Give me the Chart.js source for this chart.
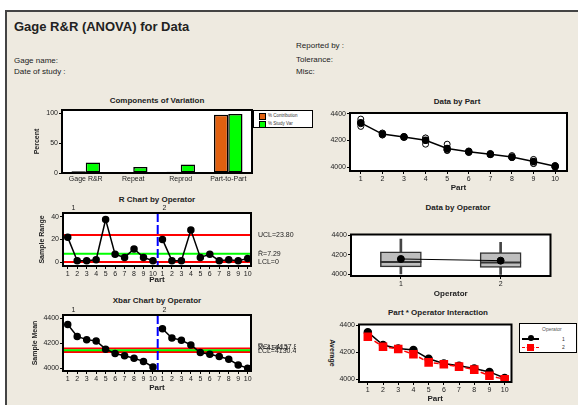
<!DOCTYPE html>
<html><head><meta charset="utf-8">
<script src="https://cdn.jsdelivr.net/npm/chart.js@4.4.1/dist/chart.umd.min.js"></script>
<style>
html,body{margin:0;padding:0;background:#fff;overflow:hidden;width:578px;height:405px}
body{position:relative;font-family:"Liberation Sans",Arial,sans-serif;color:#222}
#frame{position:absolute;left:5px;top:10px;width:600px;height:420px;background:#EEEAE0;border-left:2px solid #444;border-top:2px solid #444;box-sizing:border-box}
canvas{position:absolute}
.t{position:absolute;white-space:nowrap;transform:translate(-50%,-50%);font-weight:bold;font-size:8px;line-height:1}
.h{position:absolute;white-space:nowrap;font-size:8px;line-height:1}
.box{position:absolute;background:#fff;border:1px solid #000;box-sizing:border-box}
.sw{position:absolute;width:5px;height:5px;border:1px solid #000}
.lt{position:absolute;font-size:4.5px;line-height:1;white-space:nowrap;color:#333}
</style></head><body>
<div id="frame"></div>

<div class="h" style="left:14px;top:20px;font-size:13px;font-weight:bold">Gage R&amp;R (ANOVA) for Data</div>
<div class="h" style="left:14px;top:57px">Gage name:</div>
<div class="h" style="left:14px;top:68px">Date of study :</div>
<div class="h" style="left:296px;top:42px">Reported by :</div>
<div class="h" style="left:296px;top:56px">Tolerance:</div>
<div class="h" style="left:296px;top:68px">Misc:</div>

<div class="t" style="left:157px;top:101px">Components of Variation</div>
<div class="t" style="left:457px;top:102px">Data by Part</div>
<div class="t" style="left:157px;top:200px">R Chart by Operator</div>
<div class="t" style="left:458px;top:208px">Data by Operator</div>
<div class="t" style="left:157px;top:301px">Xbar Chart by Operator</div>
<div class="t" style="left:438px;top:313px">Part * Operator Interaction</div>
<div class="t" style="left:332px;top:353px;font-size:7px;transform:translate(-50%,-50%) rotate(90deg)">Average</div>

<canvas id="cA"></canvas>
<canvas id="cB"></canvas>
<canvas id="cC"></canvas>
<canvas id="cD"></canvas>
<canvas id="cE"></canvas>
<canvas id="cF"></canvas>

<!-- legend for components of variation -->
<div class="box" style="left:253px;top:110px;width:60px;height:18px">
  <div class="sw" style="left:5px;top:2px;background:#E06010"></div>
  <div class="lt" style="left:14px;top:3px">% Contribution</div>
  <div class="sw" style="left:5px;top:10px;background:#00FF00"></div>
  <div class="lt" style="left:14px;top:11px">% Study Var</div>
</div>

<!-- legend for interaction plot -->
<div class="box" style="left:519px;top:323px;width:58px;height:30px;border-width:1.5px">
  <div class="lt" style="left:22px;top:3px;font-size:5px;color:#555">Operator</div>
  <div style="position:absolute;left:2px;top:14px;width:17px;height:1.5px;background:#000"></div>
  <div style="position:absolute;left:8px;top:11px;width:6px;height:6px;border-radius:50%;background:#000"></div>
  <div class="lt" style="left:42px;top:12.5px;font-size:5px">1</div>
  <div style="position:absolute;left:2px;top:22.5px;width:17px;height:0;border-top:1.5px dashed #f00"></div>
  <div style="position:absolute;left:7px;top:20px;width:7px;height:7px;background:#f00"></div>
  <div class="lt" style="left:42px;top:21px;font-size:5px">2</div>
</div>

<script>
// ---- data ----
const compCats = ['Gage R&R', 'Repeat', 'Reprod', 'Part-to-Part'];
const pctContribution = [3.0, 1.0, 2.0, 97.0];
const pctStudyVar = [17.3, 10.1, 14.1, 98.5];

const parts = [1, 2, 3, 4, 5, 6, 7, 8, 9, 10];
const op1Trial1 = [4361, 4256, 4230, 4219, 4172, 4121, 4102, 4086, 4057, 4011];
const op1Trial2 = [4339, 4254, 4228, 4217, 4134, 4115, 4098, 4074, 4053, 4009];
const op2Trial1 = [4326, 4243, 4226, 4200, 4128, 4115, 4095, 4073, 4028, 4002];
const op2Trial2 = [4306, 4241, 4224, 4172, 4124, 4109, 4093, 4071, 4026, 3998];
const partMean = [4333, 4248, 4227, 4202, 4140, 4115, 4097, 4076, 4041, 4005];

const op1Range = [21.8, 1.2, 1.2, 2.0, 37.6, 6.8, 4.1, 11.5, 4.1, 1.2];
const op2Range = [20.0, 1.2, 1.2, 28.2, 4.1, 6.8, 1.2, 2.0, 1.2, 3.2];
const op1Avg = [4350, 4255, 4229, 4218, 4153, 4118, 4100, 4080, 4055, 4010];
const op2Avg = [4316, 4242, 4225, 4186, 4126, 4112, 4094, 4072, 4027, 4000];

const rLimits = [23.80, 7.29, 0];          // UCL, Rbar, LCL
const xbarLimits = [4157.8, 4144.1, 4130.4]; // UCL, Xbarbar, LCL

const operators = ['1', '2'];
const boxLow = [4002, 3997];
const boxQ1 = [4074, 4069];
const boxMedian = [4123, 4118];
const boxQ3 = [4229, 4221];
const boxHigh = [4361, 4326];
const opMean = [4155, 4138];

const pctTicks = [0, 50, 100];
const rTicks = [0, 20, 40];
const meanTicks = [4000, 4200, 4400];

// ---- setup ----
Chart.defaults.font.family = '"Liberation Sans", Arial, sans-serif';
Chart.defaults.font.size = 7;
Chart.defaults.color = '#222';
Chart.defaults.animation = false;
Chart.defaults.plugins.legend.display = false;
Chart.defaults.plugins.tooltip.enabled = false;

// white plot area + black frame
const framePlugin = {
  id: 'frame',
  beforeDraw(chart) {
    const a = chart.chartArea, c = chart.ctx;
    c.save(); c.fillStyle = '#fff';
    c.fillRect(a.left, a.top, a.right - a.left, a.bottom - a.top);
    c.restore();
  },
  afterDatasetsDraw(chart) {
    const a = chart.chartArea, c = chart.ctx;
    c.save(); c.strokeStyle = '#000'; c.lineWidth = 2;
    c.strokeRect(a.left, a.top, a.right - a.left, a.bottom - a.top);
    c.restore();
  }
};

// control limits, operator divider and their labels
const refPlugin = {
  id: 'refs',
  beforeDatasetsDraw(chart, args, o) {
    if (!o || !o.lines) return;
    const { ctx, chartArea: a, scales: { x, y } } = chart;
    ctx.save();
    o.lines.forEach(l => {
      const py = y.getPixelForValue(l.v);
      ctx.strokeStyle = l.color; ctx.lineWidth = 2;
      ctx.beginPath(); ctx.moveTo(a.left, py); ctx.lineTo(a.right, py); ctx.stroke();
    });
    const px = x.getPixelForValue(o.divider);
    ctx.strokeStyle = '#0000FF'; ctx.lineWidth = 2; ctx.setLineDash([9, 3]);
    ctx.beginPath(); ctx.moveTo(px, a.top); ctx.lineTo(px, a.bottom); ctx.stroke();
    ctx.restore();
  },
  afterDraw(chart, args, o) {
    if (!o || !o.lines) return;
    const { ctx, chartArea: a, scales: { x, y } } = chart;
    ctx.save();
    ctx.font = '7px "Liberation Sans", Arial, sans-serif';
    ctx.fillStyle = '#222';
    ctx.textBaseline = 'middle';
    o.lines.forEach(l => ctx.fillText(l.label, a.right + 7, y.getPixelForValue(l.v) + (l.dy || 0)));
    ctx.textAlign = 'center'; ctx.textBaseline = 'bottom';
    o.ops.forEach(p => ctx.fillText(p.t, x.getPixelForValue(p.at), a.top - 1));
    ctx.restore();
  }
};

function lin(min, max, ticks, title, fmt) {
  return {
    type: 'linear', min, max,
    afterBuildTicks: s => { s.ticks = ticks.map(v => ({ value: v })); },
    grid: { drawOnChartArea: false, tickLength: 3, color: '#000' },
    border: { display: false },
    ticks: { padding: 1, autoSkip: false, maxRotation: 0, callback: fmt || (v => String(v)) },
    title: title ? { display: true, text: title, padding: 0, font: { size: title === 'Part' ? 8 : 7, weight: 'bold' }, color: '#222' } : { display: false }
  };
}

function mk(id, plot, pad, config) {
  const cv = document.getElementById(id);
  const w = plot.w + pad.l + pad.r, h = plot.h + pad.t + pad.b;
  cv.width = w; cv.height = h;
  cv.style.left = (plot.l - pad.l) + 'px'; cv.style.top = (plot.t - pad.t) + 'px';
  cv.style.width = w + 'px'; cv.style.height = h + 'px';
  config.options.responsive = false;
  config.options.devicePixelRatio = 1;
  config.options.layout = { padding: { top: pad.t, right: pad.r, left: 0, bottom: 0 } };
  config.options.scales.x.afterFit = s => { s.height = pad.b; };
  config.options.scales.y.afterFit = s => { s.width = pad.l; };
  config.plugins = [framePlugin, refPlugin];
  return new Chart(cv, config);
}

const pts = (arr, off) => arr.map((v, i) => ({ x: i + (off || 0), y: v }));
const partPts = arr => arr.map((v, i) => ({ x: parts[i], y: v }));

// Components of Variation
mk('cA', { l: 62, t: 110, w: 190, h: 63 }, { l: 29, t: 6, r: 4, b: 16 }, {
  type: 'bar',
  data: {
    labels: compCats,
    datasets: [
      { label: '% Contribution', data: pctContribution, backgroundColor: '#E06010', borderColor: '#000', borderWidth: 1.5, borderSkipped: false, categoryPercentage: 0.6, barPercentage: 1 },
      { label: '% Study Var', data: pctStudyVar, backgroundColor: '#00FF00', borderColor: '#000', borderWidth: 1.5, borderSkipped: false, categoryPercentage: 0.6, barPercentage: 1 }
    ]
  },
  options: {
    scales: {
      x: { type: 'category', grid: { display: false, drawTicks: false }, border: { display: false }, ticks: { padding: 2, autoSkip: false, maxRotation: 0 } },
      y: lin(0, 105, pctTicks, 'Percent')
    }
  }
});

// Data by Part
const openPt = { type: 'scatter', pointRadius: 3, pointBorderWidth: 1, borderColor: '#000', backgroundColor: '#fff', showLine: false };
mk('cB', { l: 350, t: 113, w: 217, h: 58 }, { l: 30, t: 6, r: 6, b: 22 }, {
  type: 'scatter',
  data: {
    datasets: [
      { data: partPts(partMean), showLine: true, borderColor: '#000', borderWidth: 1.5, pointRadius: 3, pointBackgroundColor: '#000', pointBorderColor: '#000' },
      Object.assign({ data: partPts(op1Trial1) }, openPt),
      Object.assign({ data: partPts(op1Trial2) }, openPt),
      Object.assign({ data: partPts(op2Trial1) }, openPt),
      Object.assign({ data: partPts(op2Trial2) }, openPt)
    ]
  },
  options: { scales: { x: lin(0.5, 10.55, parts, 'Part'), y: lin(3970, 4407, meanTicks) } }
});

// R Chart by Operator
const ctlLine = { showLine: true, borderColor: '#000', borderWidth: 1.5, pointRadius: 3, pointBackgroundColor: '#000', pointBorderColor: '#000' };
const idx20 = parts.map(p => p - 1).concat(parts.map(p => p + 9));
mk('cC', { l: 63, t: 213, w: 188, h: 53 }, { l: 25, t: 12, r: 45, b: 19 }, {
  type: 'scatter',
  data: {
    datasets: [
      Object.assign({ data: pts(op1Range, 0) }, ctlLine),
      Object.assign({ data: pts(op2Range, 10) }, ctlLine)
    ]
  },
  options: {
    scales: { x: lin(-0.5, 19.35, idx20, 'Part', v => String(v % 10 + 1)), y: lin(-3.5, 43.3, rTicks, 'Sample Range') },
    plugins: {
      refs: {
        lines: [
          { v: rLimits[0], color: '#FF0000', label: 'UCL=23.80' },
          { v: rLimits[1], color: '#00FF00', label: 'R\u0304=7.29' },
          { v: rLimits[2], color: '#FF0000', label: 'LCL=0' }
        ],
        divider: 9.5,
        ops: [{ t: '1', at: 0.6 }, { t: '2', at: 10.2 }]
      }
    }
  }
});

// Data by Operator
mk('cD', { l: 351, t: 218, w: 216, h: 58 }, { l: 30, t: 6, r: 6, b: 23 }, {
  type: 'bar',
  data: {
    labels: operators,
    datasets: [
      { type: 'line', data: opMean, borderColor: '#000', borderWidth: 1, pointRadius: 3.5, pointBackgroundColor: '#000', pointBorderColor: '#000', order: 0 },
      { type: 'line', data: boxMedian, showLine: false, pointStyle: 'line', pointRadius: 20.5, pointBorderWidth: 2, borderColor: '#333', order: 1 },
      { data: boxQ1.map((v, i) => [v, boxQ3[i]]), backgroundColor: '#BEBEBE', borderColor: '#333', borderWidth: 1.5, borderSkipped: false, barThickness: 41, grouped: false, order: 2 },
      { data: boxLow.map((v, i) => [v, boxHigh[i]]), backgroundColor: '#444', barThickness: 2, grouped: false, order: 3 }
    ]
  },
  options: {
    scales: {
      x: { type: 'category', offset: true, grid: { offset: false, drawOnChartArea: false, tickLength: 3, color: '#000' }, border: { display: false }, ticks: { padding: 1 },
           title: { display: true, text: 'Operator', padding: 0, font: { size: 8, weight: 'bold' }, color: '#222' } },
      y: lin(3980, 4407, meanTicks)
    }
  }
});

// Xbar Chart by Operator
mk('cE', { l: 63, t: 315, w: 188, h: 56 }, { l: 32, t: 12, r: 45, b: 22 }, {
  type: 'scatter',
  data: {
    datasets: [
      Object.assign({ data: pts(op1Avg, 0) }, ctlLine),
      Object.assign({ data: pts(op2Avg, 10) }, ctlLine)
    ]
  },
  options: {
    scales: { x: lin(-0.5, 19.35, idx20, 'Part', v => String(v % 10 + 1)), y: lin(3978, 4426, meanTicks, 'Sample Mean') },
    plugins: {
      refs: {
        lines: [
          { v: xbarLimits[0], color: '#FF0000', label: 'UCL=4157.8', dy: -1 },
          { v: xbarLimits[2], color: '#FF0000', label: 'LCL=4130.4', dy: -1 },
          { v: xbarLimits[1], color: '#00FF00', label: 'X\u033F=4144.1', dy: -2 }
        ],
        divider: 9.5,
        ops: [{ t: '1', at: 0.6 }, { t: '2', at: 10.2 }]
      }
    }
  }
});

// Part * Operator Interaction
mk('cF', { l: 359, t: 324, w: 155, h: 58 }, { l: 30, t: 6, r: 4, b: 22 }, {
  type: 'scatter',
  data: {
    datasets: [
      { data: partPts(op1Avg), showLine: true, borderColor: '#000', borderWidth: 1.5, pointRadius: 3.5, pointBackgroundColor: '#000', pointBorderColor: '#000', order: 1 },
      { data: partPts(op2Avg), showLine: true, borderColor: '#FF0000', borderWidth: 1.5, borderDash: [5, 3], pointStyle: 'rect', pointRadius: 5, pointBackgroundColor: '#FF0000', pointBorderColor: '#FF0000', order: 0 }
    ]
  },
  options: { scales: { x: lin(0.42, 10.45, parts, 'Part'), y: lin(3980, 4407, meanTicks) } }
});
</script>
</body></html>
